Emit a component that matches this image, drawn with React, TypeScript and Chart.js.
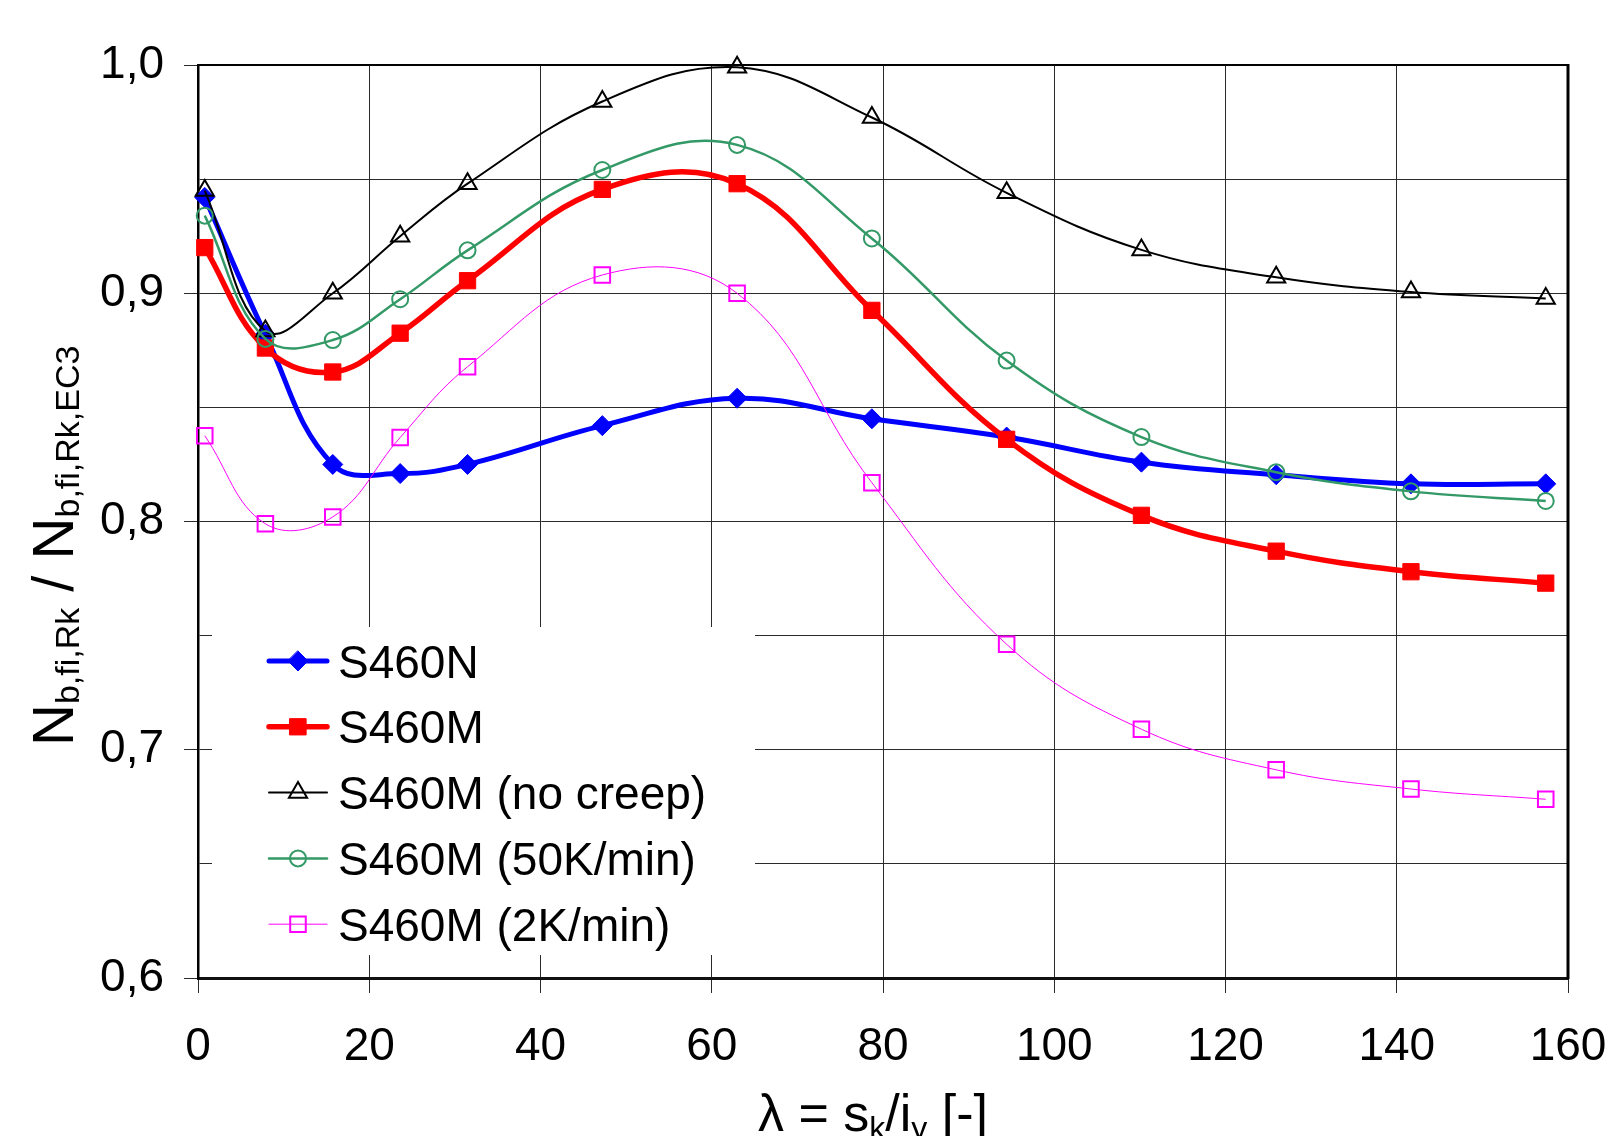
import React, { useEffect, useRef } from 'react';
import { Chart, registerables } from 'chart.js';

Chart.register(...registerables);

// ---------- data ----------
const lambdaValues = [0.79, 7.87, 15.74, 23.61, 31.48, 47.22, 62.96, 78.7, 94.44, 110.18, 125.92, 141.66, 157.4];

const seriesLabels = ['S460N', 'S460M', 'S460M (no creep)', 'S460M (50K/min)', 'S460M (2K/min)'];

const s460N = [0.942, 0.882, 0.825, 0.821, 0.825, 0.842, 0.854, 0.845, 0.837, 0.826, 0.8205, 0.8165, 0.8165];
const s460M = [0.92, 0.876, 0.8655, 0.8825, 0.9055, 0.9455, 0.948, 0.8925, 0.836, 0.8027, 0.787, 0.778, 0.773];
const s460MNoCreep = [0.945, 0.8835, 0.9, 0.925, 0.948, 0.984, 0.999, 0.977, 0.944, 0.919, 0.907, 0.9005, 0.8977];
const s460M50K = [0.934, 0.88, 0.8795, 0.8974, 0.9188, 0.954, 0.965, 0.924, 0.8705, 0.837, 0.8216, 0.8132, 0.809];
const s460M2K = [0.8376, 0.799, 0.802, 0.8368, 0.8678, 0.908, 0.9, 0.817, 0.7462, 0.709, 0.6912, 0.6828, 0.6783];

const xTickValues = [0, 20, 40, 60, 80, 100, 120, 140, 160];
const yTickValues = [0.6, 0.65, 0.7, 0.75, 0.8, 0.85, 0.9, 0.95, 1.0];
const yLabelValues = [0.6, 0.7, 0.8, 0.9, 1.0];

const FONT = '"Liberation Sans", Arial, Helvetica, sans-serif';

const isYLabel = (v: number) => yLabelValues.some((l) => Math.abs(l - v) < 1e-6);

function drawMarker(
  ctx: CanvasRenderingContext2D,
  style: string,
  x: number,
  y: number,
  r: number,
  fill: string,
  stroke: string,
  lw: number
) {
  ctx.beginPath();
  if (style === 'rectRot') {
    ctx.moveTo(x, y - r);
    ctx.lineTo(x + r, y);
    ctx.lineTo(x, y + r);
    ctx.lineTo(x - r, y);
    ctx.closePath();
  } else if (style === 'rect') {
    const s = r * Math.SQRT1_2;
    ctx.rect(x - s, y - s, 2 * s, 2 * s);
  } else if (style === 'triangle') {
    ctx.moveTo(x, y - r);
    ctx.lineTo(x + r * Math.sin((2 * Math.PI) / 3), y - r * Math.cos((2 * Math.PI) / 3));
    ctx.lineTo(x + r * Math.sin((4 * Math.PI) / 3), y - r * Math.cos((4 * Math.PI) / 3));
    ctx.closePath();
  } else {
    ctx.arc(x, y, r, 0, Math.PI * 2);
  }
  ctx.fillStyle = fill;
  ctx.fill();
  ctx.lineWidth = lw;
  ctx.strokeStyle = stroke;
  ctx.stroke();
}

const framePlugin = {
  id: 'frameAndLegend',
  afterDatasetsDraw(chart: any) {
    const { ctx, chartArea } = chart;
    ctx.save();
    // top and right frame
    ctx.strokeStyle = '#000';
    ctx.lineWidth = 2;
    ctx.beginPath();
    ctx.moveTo(chartArea.left, chartArea.top);
    ctx.lineTo(chartArea.right, chartArea.top);
    ctx.stroke();
    ctx.lineWidth = 3;
    ctx.beginPath();
    ctx.moveTo(chartArea.right, chartArea.top - 1);
    ctx.lineTo(chartArea.right, chartArea.bottom + 1);
    ctx.stroke();

    // legend box (white, covers grid)
    const boxL = 212;
    const boxT = 627;
    const boxR = 755;
    const boxB = 955;
    ctx.fillStyle = '#fff';
    ctx.fillRect(boxL, boxT, boxR - boxL, boxB - boxT);

    const itemY0 = 661;
    const itemStep = 65.8;
    const lineX0 = 269;
    const lineX1 = 327;
    const textX = 338;
    chart.data.datasets.forEach((ds: any, i: number) => {
      const y = itemY0 + i * itemStep;
      ctx.strokeStyle = ds.borderColor;
      ctx.lineWidth = ds.borderWidth;
      ctx.lineCap = 'round';
      ctx.beginPath();
      ctx.moveTo(lineX0, y);
      ctx.lineTo(lineX1, y);
      ctx.stroke();
      drawMarker(
        ctx,
        ds.pointStyle,
        (lineX0 + lineX1) / 2,
        y,
        ds.pointRadius,
        ds.pointBackgroundColor,
        ds.pointBorderColor,
        ds.pointBorderWidth
      );
      ctx.fillStyle = '#000';
      ctx.font = `46px ${FONT}`;
      ctx.textAlign = 'left';
      ctx.textBaseline = 'alphabetic';
      ctx.fillText(ds.label, textX, y + 16.5);
    });

    // Y axis title with subscripts (rotated)
    ctx.save();
    ctx.translate(73, 746);
    ctx.rotate(-Math.PI / 2);
    ctx.fillStyle = '#000';
    ctx.textAlign = 'left';
    ctx.textBaseline = 'alphabetic';
    const yParts: [string, boolean][] = [
      ['N', false],
      ['b,fi,Rk', true],
      [' / ', false],
      ['N', false],
      ['b,fi,Rk,EC3', true],
    ];
    let px = 0;
    for (const [t, sub] of yParts) {
      ctx.font = sub ? `34px ${FONT}` : `58px ${FONT}`;
      ctx.fillText(t, px, sub ? 6 : 0);
      px += ctx.measureText(t).width;
    }
    ctx.restore();

    // X axis title with subscripts
    const xParts: [string, boolean][] = [
      ['\u03bb = s', false],
      ['k', true],
      ['/i', false],
      ['y', true],
      [' [-]', false],
    ];
    let qx = 758;
    const baseY = 1131;
    ctx.fillStyle = '#000';
    for (const [t, sub] of xParts) {
      ctx.font = sub ? `32px ${FONT}` : `52px ${FONT}`;
      ctx.fillText(t, qx, sub ? baseY + 8 : baseY);
      qx += ctx.measureText(t).width;
    }
    ctx.restore();
  },
};

export default function App() {
  const canvasRef = useRef<HTMLCanvasElement | null>(null);

  useEffect(() => {
    if (!canvasRef.current) return;
    const toPts = (arr: number[]) => lambdaValues.map((x, i) => ({ x, y: arr[i] }));

    const datasets: any[] = [
      {
        label: seriesLabels[0],
        data: toPts(s460N),
        borderColor: '#0000FF',
        backgroundColor: '#0000FF',
        borderWidth: 5,
        pointStyle: 'rectRot',
        pointRadius: 10,
        pointBackgroundColor: '#0000FF',
        pointBorderColor: '#0000FF',
        pointBorderWidth: 1,
        order: 5,
      },
      {
        label: seriesLabels[1],
        data: toPts(s460M),
        borderColor: '#FF0000',
        backgroundColor: '#FF0000',
        borderWidth: 5.5,
        pointStyle: 'rect',
        pointRadius: 11.5,
        pointBackgroundColor: '#FF0000',
        pointBorderColor: '#FF0000',
        pointBorderWidth: 1,
        order: 4,
      },
      {
        label: seriesLabels[2],
        data: toPts(s460MNoCreep),
        borderColor: '#000000',
        backgroundColor: '#000000',
        borderWidth: 2,
        pointStyle: 'triangle',
        pointRadius: 10.5,
        pointBackgroundColor: 'rgba(255,255,255,0)',
        pointBorderColor: '#000000',
        pointBorderWidth: 2,
        order: 3,
      },
      {
        label: seriesLabels[3],
        data: toPts(s460M50K),
        borderColor: '#339966',
        backgroundColor: '#339966',
        borderWidth: 2.5,
        pointStyle: 'circle',
        pointRadius: 8,
        pointBackgroundColor: 'rgba(255,255,255,0)',
        pointBorderColor: '#339966',
        pointBorderWidth: 2,
        order: 2,
      },
      {
        label: seriesLabels[4],
        data: toPts(s460M2K),
        borderColor: '#FF00FF',
        backgroundColor: '#FF00FF',
        borderWidth: 1,
        pointStyle: 'rect',
        pointRadius: 11,
        pointBackgroundColor: 'rgba(255,255,255,0)',
        pointBorderColor: '#FF00FF',
        pointBorderWidth: 2,
        order: 1,
      },
    ].map((d) => ({ ...d, tension: 0.4, fill: false, clip: false, pointHoverRadius: d.pointRadius }));

    const chart = new Chart(canvasRef.current, {
      type: 'line',
      data: { datasets },
      options: {
        responsive: false,
        animation: false,
        devicePixelRatio: 1,
        layout: { padding: { left: 0, right: 43, top: 65, bottom: 0 } },
        plugins: {
          legend: { display: false },
          tooltip: { enabled: false },
          title: { display: false },
        },
        scales: {
          x: {
            type: 'linear',
            min: 0,
            max: 160,
            afterBuildTicks: (scale: any) => {
              scale.ticks = xTickValues.map((v) => ({ value: v }));
            },
            afterFit: (scale: any) => {
              scale.height = 1136 - 978;
              scale.paddingLeft = 0;
              scale.paddingRight = 0;
            },
            ticks: {
              autoSkip: false,
              maxRotation: 0,
              minRotation: 0,
              padding: 27,
              color: '#000',
              font: { family: FONT, size: 46 },
              callback: (v: any) => String(v),
            },
            grid: {
              color: '#2a2a2a',
              lineWidth: 1,
              tickLength: 15,
              tickColor: '#2a2a2a',
              tickWidth: 1,
            },
            border: { display: true, color: '#111', width: 3 },
          },
          y: {
            type: 'linear',
            min: 0.6,
            max: 1.0,
            afterBuildTicks: (scale: any) => {
              scale.ticks = yTickValues.map((v) => ({ value: v }));
            },
            afterFit: (scale: any) => {
              scale.width = 198;
              scale.paddingTop = 0;
              scale.paddingBottom = 0;
            },
            ticks: {
              autoSkip: false,
              padding: 20,
              color: '#000',
              font: { family: FONT, size: 46 },
              callback: (v: any) => (isYLabel(Number(v)) ? Number(v).toFixed(1).replace('.', ',') : ''),
            },
            grid: {
              color: '#2a2a2a',
              lineWidth: 1,
              tickLength: 14,
              tickWidth: 1,
              tickColor: (c: any) => (c.tick && isYLabel(c.tick.value) ? '#2a2a2a' : 'rgba(0,0,0,0)'),
            },
            border: { display: true, color: '#000', width: 2.5 },
          },
        },
      } as any,
      plugins: [framePlugin],
    });

    return () => {
      chart.destroy();
    };
  }, []);

  return (
    <div
      style={{
        position: 'absolute',
        left: 0,
        top: 0,
        width: 1611,
        height: 1136,
        background: '#fff',
        overflow: 'hidden',
      }}
    >
      <canvas ref={canvasRef} width={1611} height={1136} style={{ display: 'block' }} />
    </div>
  );
}
